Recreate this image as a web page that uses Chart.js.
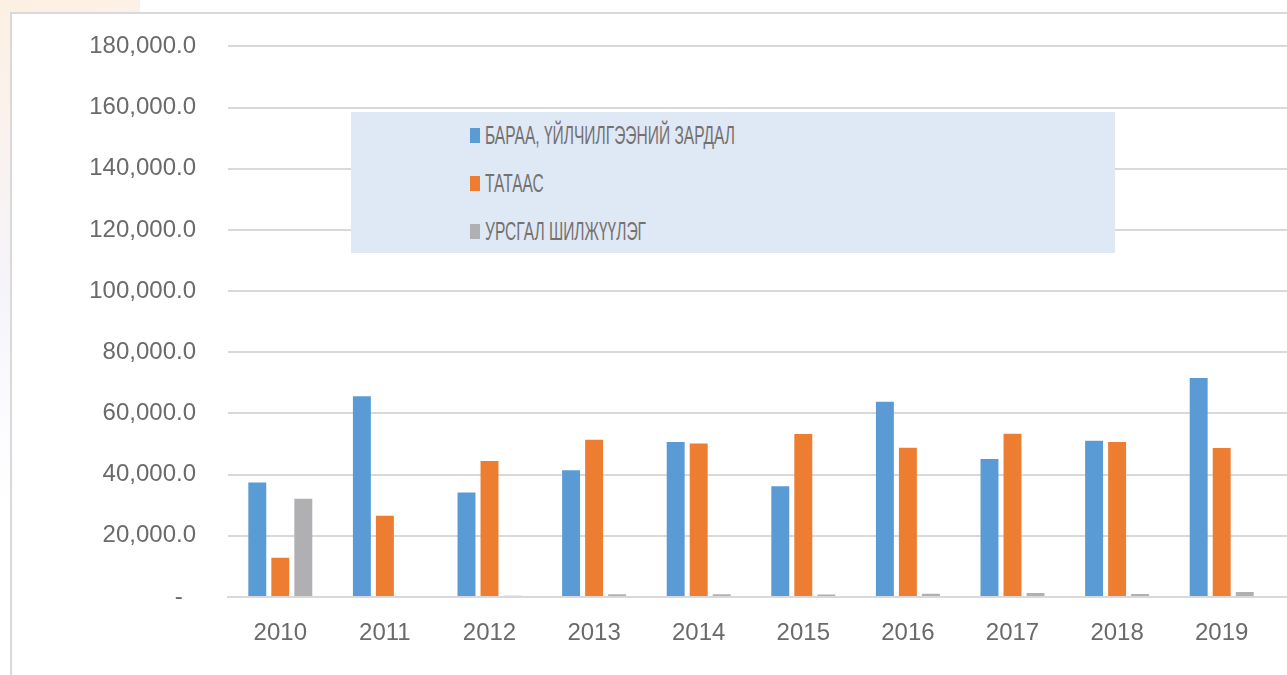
<!DOCTYPE html>
<html>
<head>
<meta charset="utf-8">
<script src="https://cdn.jsdelivr.net/npm/chart.js@4/dist/chart.umd.min.js"></script>
<style>
    html, body { margin: 0; padding: 0; background: #fff; overflow: hidden; }
    body { width: 1287px; height: 675px; position: relative; }
    #deco { position: absolute; left: 0; top: 0; width: 140px; height: 675px;
        background: linear-gradient(160deg, #fdf0e2 0%, #f6f4fb 40%, #ffffff 70%); }
    #frame { position: absolute; left: 10px; top: 12px; width: 1300px; height: 700px;
        border: 2px solid #d9d9d9; background: #fff; }
    #wrap { position: absolute; left: 0; top: 0; width: 1287px; height: 675px; }
    #legend { position: absolute; left: 351px; top: 112px; width: 764px; height: 141px;
        background: #dee9f5; }
    .item { position: absolute; left: 119px; height: 24px; white-space: nowrap; }
    .box { position: absolute; left: 0; top: 5px; width: 10px; height: 15px; }
    .lbl { position: absolute; left: 15px; top: -2px; font-family: "Liberation Sans Narrow", "Liberation Sans", sans-serif;
        font-size: 26px; line-height: 28px; color: #767171; transform-origin: 0 50%; }
</style>
</head>
<body>
<div id="deco"></div>
<div id="frame"></div>
<div id="wrap"><canvas id="barChart" width="1287" height="675"></canvas></div>
<div id="legend"></div>
<script>
const years = ['2010', '2011', '2012', '2013', '2014', '2015', '2016', '2017', '2018', '2019'];
const seriesNames = ['БАРАА, ҮЙЛЧИЛГЭЭНИЙ ЗАРДАЛ', 'ТАТААС', 'УРСГАЛ ШИЛЖҮҮЛЭГ'];
const goodsServices = [37400, 65600, 34200, 41400, 50700, 36200, 63800, 45100, 51100, 71600];
const subsidies = [12800, 26600, 44500, 51400, 50200, 53300, 48800, 53400, 50700, 48700];
const transfers = [32100, 0, 400, 900, 900, 800, 1100, 1300, 1000, 1600];
const yTicks = [0, 20000, 40000, 60000, 80000, 100000, 120000, 140000, 160000, 180000];
const colors = ['#5b9bd5', '#ed7d31', '#b0b0b3'];

const gridColor = '#d9d9d9';

// gridlines in the picture run past the last category to the right edge
const extendGrid = {
    id: 'extendGrid',
    beforeDatasetsDraw(chart) {
        const ctx = chart.ctx;
        const y = chart.scales.y;
        ctx.save();
        ctx.strokeStyle = gridColor;
        ctx.lineWidth = 2;
        y.ticks.forEach(t => {
            const py = Math.round(y.getPixelForValue(t.value));
            ctx.beginPath();
            ctx.moveTo(chart.chartArea.right, py);
            ctx.lineTo(chart.width, py);
            ctx.stroke();
        });
        ctx.restore();
    }
};

const ctx = document.getElementById('barChart').getContext('2d');
const chart = new Chart(ctx, {
    type: 'bar',
    data: {
        labels: years,
        datasets: [
            { label: seriesNames[0], data: goodsServices, backgroundColor: colors[0] },
            { label: seriesNames[1], data: subsidies, backgroundColor: colors[1] },
            { label: seriesNames[2], data: transfers, backgroundColor: colors[2] }
        ]
    },
    options: {
        responsive: false,
        animation: false,
        devicePixelRatio: 1,
        layout: { padding: { top: 46, right: 13, bottom: 0, left: 0 } },
        datasets: { bar: { categoryPercentage: 0.66, barPercentage: 0.78 } },
        plugins: { legend: { display: false }, tooltip: { enabled: false } },
        scales: {
            x: {
                grid: { display: false, drawTicks: false },
                border: { display: true, color: gridColor, width: 2 },
                ticks: { color: '#6a6a6a', padding: 22, font: { family: 'Liberation Sans', size: 24 } },
                afterFit: s => { s.height = 78; }
            },
            y: {
                min: 0, max: 180000,
                afterBuildTicks: s => { s.ticks = yTicks.map(v => ({ value: v })); },
                grid: { color: gridColor, lineWidth: 2, drawTicks: false },
                border: { display: false },
                ticks: {
                    color: '#6a6a6a', padding: 32,
                    font: { family: 'Liberation Sans', size: 24 },
                    callback: v => v === 0 ? '-  ' : v.toLocaleString('en-US', { minimumFractionDigits: 1 })
                },
                afterFit: s => { s.width = 228; }
            }
        }
    },
    plugins: [extendGrid]
});

// legend box drawn as html from the datasets
const legend = document.getElementById('legend');
chart.data.datasets.forEach((ds, i) => {
    const item = document.createElement('div');
    item.className = 'item';
    item.style.top = (11 + i * 48) + 'px';
    item.innerHTML = '<span class="box" style="background:' + ds.backgroundColor + '"></span>' +
        '<span class="lbl">' + ds.label + '</span>';
    legend.appendChild(item);
});
// squeeze legend text to the condensed look of the original
let legendScale = 1;
document.querySelectorAll('.lbl').forEach((el, i) => {
    if (i === 0) {
        legendScale = 250 / el.getBoundingClientRect().width;
    }
    el.style.transform = 'scaleX(' + legendScale + ')';
});
</script>
</body>
</html>
